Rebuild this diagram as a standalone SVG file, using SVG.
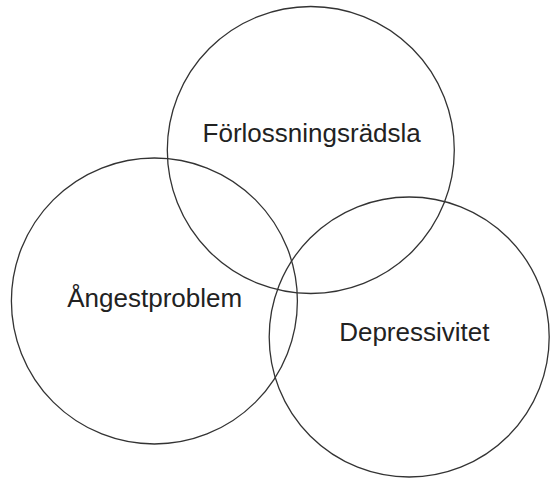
<svg xmlns="http://www.w3.org/2000/svg" width="556" height="478" viewBox="0 0 556 478">
<style>
.c{fill:none;stroke:#333;stroke-width:1.3}
.t{font-family:"Liberation Sans",Arial,sans-serif;font-size:26px;fill:#222;text-anchor:middle}
</style>
<rect width="556" height="478" fill="#fff"/>
<g id="node-forlossningsradsla">
<circle class="c" cx="310.8" cy="150" r="143.5"/>
<text class="t" x="311.7" y="141.7">Förlossningsrädsla</text>
</g>
<g id="node-angestproblem">
<circle class="c" cx="154.4" cy="301" r="143"/>
<text class="t" x="154.7" y="307.3">Ångestproblem</text>
</g>
<g id="node-depressivitet">
<circle class="c" cx="409.2" cy="337" r="140"/>
<text class="t" x="414.3" y="340.7">Depressivitet</text>
</g>
<g id="connectors"></g>
</svg>
